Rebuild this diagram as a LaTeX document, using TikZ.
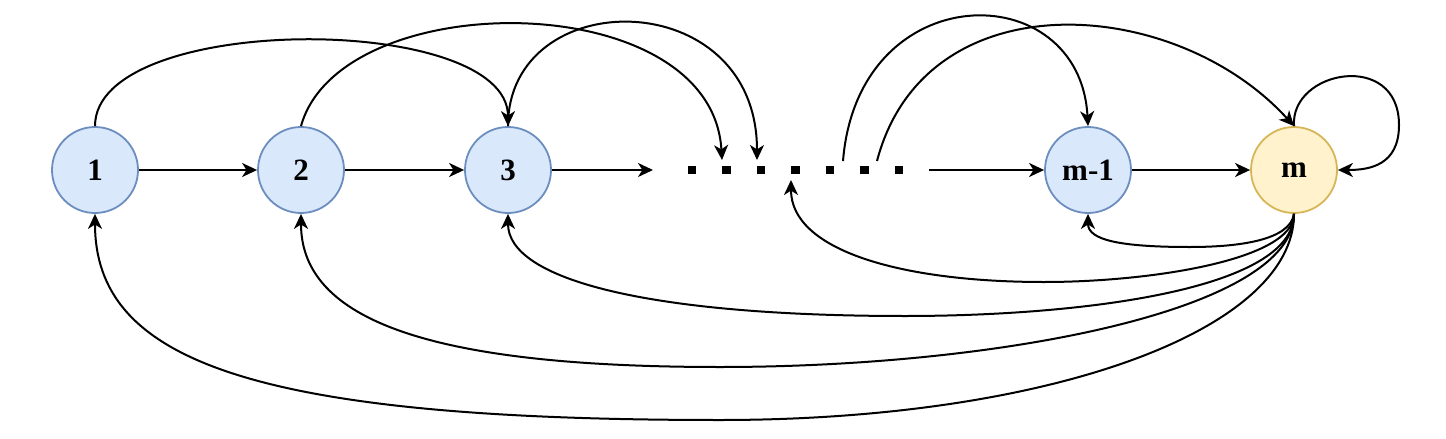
\documentclass[tikz,border=0pt]{standalone}
\usepackage{fontspec}
\setmainfont{Liberation Serif}
\usetikzlibrary{arrows.meta}
\definecolor{bfill}{HTML}{DAE8FC}
\definecolor{bdraw}{HTML}{6C8EBF}
\definecolor{yfill}{HTML}{FFF2CC}
\definecolor{ydraw}{HTML}{D6B656}
\begin{document}
\begin{tikzpicture}[x=0.5pt,y=-0.5pt,
  state/.style={circle, minimum size=43pt, inner sep=0pt, line width=0.9pt, font=\fontsize{15.5}{18}\selectfont\bfseries},
  bstate/.style={state, fill=bfill, draw=bdraw},
  ystate/.style={state, fill=yfill, draw=ydraw},
  dotsq/.style={rectangle, fill=black, minimum size=4.2pt, inner sep=0pt},
  edge/.style={line width=1pt, -{Stealth[length=7.5pt,width=7pt,inset=2.2pt]}}]
\useasboundingbox (0,0) rectangle (1446,439);
\node[bstate] (n1) at (95,170) {1};
\node[bstate] (n2) at (301,170) {2};
\node[bstate] (n3) at (508,170) {3};
\node[bstate] (nm1) at (1088,170) {m-1};
\node[ystate] (nm) at (1294,170) {m};
\foreach \i in {0,...,6} \node[dotsq] (d\i) at (692+34.5*\i,170) {};
\coordinate (in3) at (653,170);
\coordinate (out3) at (929,170);
\coordinate (ta) at (722,160);
\coordinate (tb) at (757,160);
\coordinate (sa) at (843,161);
\coordinate (sb) at (877,161);
\coordinate (bu) at (791,180);
% straight edges
\draw[edge] (n1) -- (n2);
\draw[edge] (n2) -- (n3);
\draw[edge] (n3) -- (in3);
\draw[edge] (out3) -- (nm1);
\draw[edge] (nm1) -- (nm);
% upper arcs
\draw[edge] (n1.north) .. controls (95,12) and (508,12) .. (n3.north);
\draw[edge] (n2.north) .. controls (340,-15) and (712,-15) .. (ta);
\draw[edge] (n3.north) .. controls (508,-17) and (757,-17) .. (tb);
\draw[edge] (sa) .. controls (858,-25) and (1080,-25) .. (nm1.north);
\draw[edge] (sb) .. controls (925,-22) and (1175,-5) .. (nm.north);
% self loop
\draw[edge] (nm.north) .. controls (1290,70) and (1399,50) .. (1399,125) .. controls (1399,165) and (1370,170) .. (nm.east);
% lower arcs
\draw[edge] (nm.south) .. controls (1290,240) and (1240,247) .. (1190,247) .. controls (1120,247) and (1088,240) .. (nm1.south);
\draw[edge] (nm.south) .. controls (1294,260) and (1150,282) .. (1044,282) .. controls (900,282) and (791,250) .. (bu);
\draw[edge] (nm.south) .. controls (1294,290) and (1080,316) .. (905,316) .. controls (650,316) and (508,280) .. (n3.south);
\draw[edge] (nm.south) .. controls (1294,310) and (1000,367) .. (720,367) .. controls (430,367) and (301,320) .. (n2.south);
\draw[edge] (nm.south) .. controls (1294,330) and (1050,420) .. (720,420) .. controls (250,420) and (95,360) .. (n1.south);
\end{tikzpicture}
\end{document}
